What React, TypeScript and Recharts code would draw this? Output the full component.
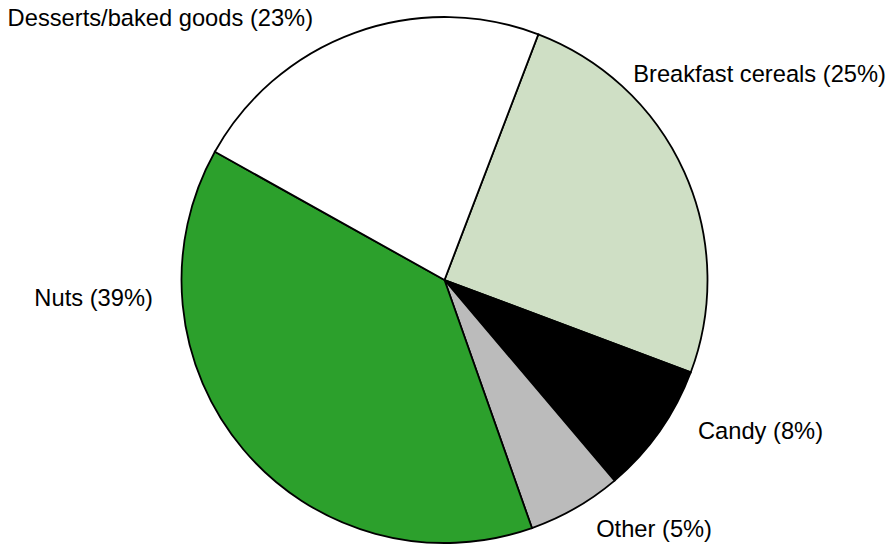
import { Cell, Pie, PieChart } from "recharts";

// slice order follows the picture clockwise, starting just right of 12 o'clock
const categories = ["Breakfast cereals", "Candy", "Other", "Nuts", "Desserts/baked goods"];
const shares = [24.9, 8.1, 5.8, 38.5, 22.7];
const shareLabels = ["25%", "8%", "5%", "39%", "23%"];

const COLORS = ["#cfdfc5", "#000000", "#bbbbbb", "#2ca02c", "#ffffff"];

// label placement: angle clockwise from 12 o'clock, distance as a fraction of radius
const LABEL_ANGLE = [42.5, 120.8, 148.6, 266.5, 333.4];
const LABEL_DIST = [1.062, 1.122, 1.107, 1.111, 1.116];

const chartData = categories.map((name, i) => ({
  name,
  value: shares[i],
  label: `${name} (${shareLabels[i]})`
}));

const START = 90 - 20.9;

function renderLabel(props: any) {
  const { cx, cy, outerRadius, index } = props;
  const theta = (LABEL_ANGLE[index] * Math.PI) / 180;
  const d = outerRadius * LABEL_DIST[index];
  const x = cx + d * Math.sin(theta);
  const y = cy - d * Math.cos(theta);
  return (
    <text
      x={x}
      y={y}
      textAnchor={Math.sin(theta) >= 0 ? "start" : "end"}
      dominantBaseline="central"
      fill="#000"
      fontSize={23.7}
      fontFamily="'Liberation Sans', Arial, sans-serif"
    >
      {chartData[index].label}
    </text>
  );
}

export default function App() {
  return (
    <div style={{ position: "absolute", left: 0, top: 0, background: "#fff" }}>
      <PieChart
        width={886}
        height={548}
        margin={{ top: 0, right: 0, bottom: 0, left: 0 }}
      >
        <Pie
          data={chartData}
          dataKey="value"
          nameKey="name"
          cx={444.5}
          cy={280}
          outerRadius={263}
          startAngle={START}
          endAngle={START - 360}
          stroke="#000"
          strokeWidth={1.8}
          label={renderLabel}
          labelLine={false}
          isAnimationActive={false}
        >
          {chartData.map((entry, i) => (
            <Cell key={entry.name} fill={COLORS[i]} />
          ))}
        </Pie>
      </PieChart>
    </div>
  );
}
